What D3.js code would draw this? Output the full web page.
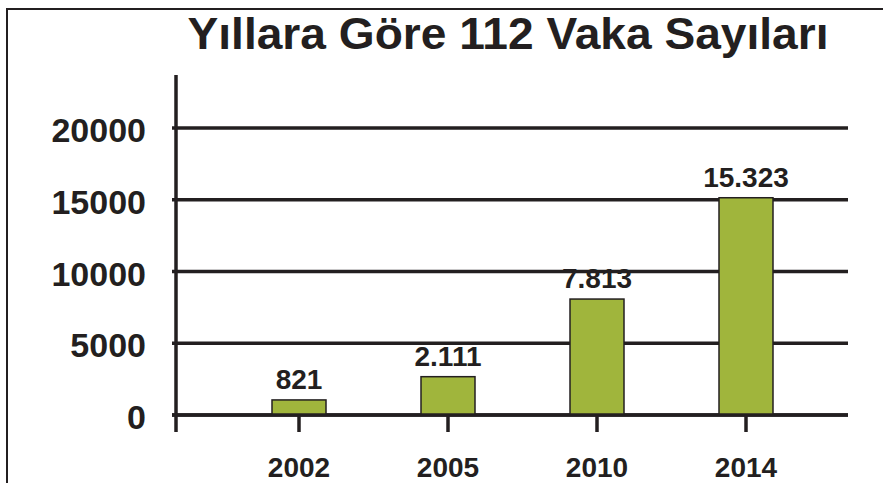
<!DOCTYPE html>
<html>
<head>
<meta charset="utf-8">
<script src="https://cdn.jsdelivr.net/npm/d3@7"></script>
<style>
  html, body { margin: 0; padding: 0; background: #fff; }
  svg { display: block; }
  text { font-family: "Liberation Sans", Arial, Helvetica, sans-serif; font-weight: bold; fill: #231f20; }
</style>
</head>
<body>
<div id="chart"></div>
<script>
// ---------- Data ----------
const years = ["2002", "2005", "2010", "2014"];
const caseLabels = ["821", "2.111", "7.813", "15.323"];
// bar heights as drawn in the picture
const barValues = [1050, 2670, 8080, 15140];
const yTicks = [0, 5000, 10000, 15000, 20000];
const title = "Yıllara Göre 112 Vaka Sayıları";

// ---------- Layout ----------
const width = 883, height = 483;
const ink = "#231f20";
const plot = { left: 176, right: 848, top: 128, bottom: 415 };

const svg = d3.select("#chart").append("svg")
  .attr("width", width)
  .attr("height", height);

// frame (left + top only)
svg.append("path")
  .attr("d", `M7,${height} V9 H${width}`)
  .attr("fill", "none")
  .attr("stroke", ink)
  .attr("stroke-width", 2);

// ---------- Title ----------
svg.append("text")
  .attr("x", 508)
  .attr("y", 49)
  .attr("text-anchor", "middle")
  .attr("font-size", 44)
  .attr("textLength", 641)
  .attr("lengthAdjust", "spacingAndGlyphs")
  .text(title);

// ---------- Scales ----------
const y = d3.scaleLinear()
  .domain([0, 20000])
  .range([plot.bottom, plot.top]);

const x = d3.scalePoint()
  .domain(years)
  .range([299, 746]);

const barWidth = 54;

// ---------- Grid ----------
svg.append("g")
  .selectAll("line")
  .data(yTicks)
  .join("line")
  .attr("x1", plot.left - 4)
  .attr("x2", plot.right)
  .attr("y1", d => y(d))
  .attr("y2", d => y(d))
  .attr("stroke", ink)
  .attr("stroke-width", 3.5);

// y tick labels
svg.append("g")
  .selectAll("text")
  .data(yTicks)
  .join("text")
  .attr("x", 146)
  .attr("y", d => y(d) + 14)
  .attr("text-anchor", "end")
  .attr("font-size", 34)
  .text(d => d);

// y axis line
svg.append("line")
  .attr("x1", plot.left).attr("x2", plot.left)
  .attr("y1", 75).attr("y2", plot.bottom + 17)
  .attr("stroke", ink)
  .attr("stroke-width", 3.5);

// ---------- Bars ----------
svg.append("g")
  .selectAll("rect")
  .data(years)
  .join("rect")
  .attr("x", d => x(d) - barWidth / 2)
  .attr("width", barWidth)
  .attr("y", (d, i) => y(barValues[i]))
  .attr("height", (d, i) => y(0) - y(barValues[i]))
  .attr("fill", "#a0b53c")
  .attr("stroke", ink)
  .attr("stroke-width", 1.5);

// redraw zero line over the bar bottoms
svg.append("line")
  .attr("x1", plot.left - 4).attr("x2", plot.right)
  .attr("y1", y(0)).attr("y2", y(0))
  .attr("stroke", ink)
  .attr("stroke-width", 3.5);

// value labels
svg.append("g")
  .selectAll("text")
  .data(years)
  .join("text")
  .attr("x", d => x(d))
  .attr("y", (d, i) => y(barValues[i]) - 11)
  .attr("text-anchor", "middle")
  .attr("font-size", 28)
  .text((d, i) => caseLabels[i]);

// ---------- X axis ----------
svg.append("g")
  .selectAll("line")
  .data(years)
  .join("line")
  .attr("x1", d => x(d)).attr("x2", d => x(d))
  .attr("y1", plot.bottom).attr("y2", plot.bottom + 17)
  .attr("stroke", ink)
  .attr("stroke-width", 3.5);

svg.append("g")
  .selectAll("text")
  .data(years)
  .join("text")
  .attr("x", d => x(d))
  .attr("y", 477)
  .attr("text-anchor", "middle")
  .attr("font-size", 28)
  .text(d => d);
</script>
</body>
</html>
